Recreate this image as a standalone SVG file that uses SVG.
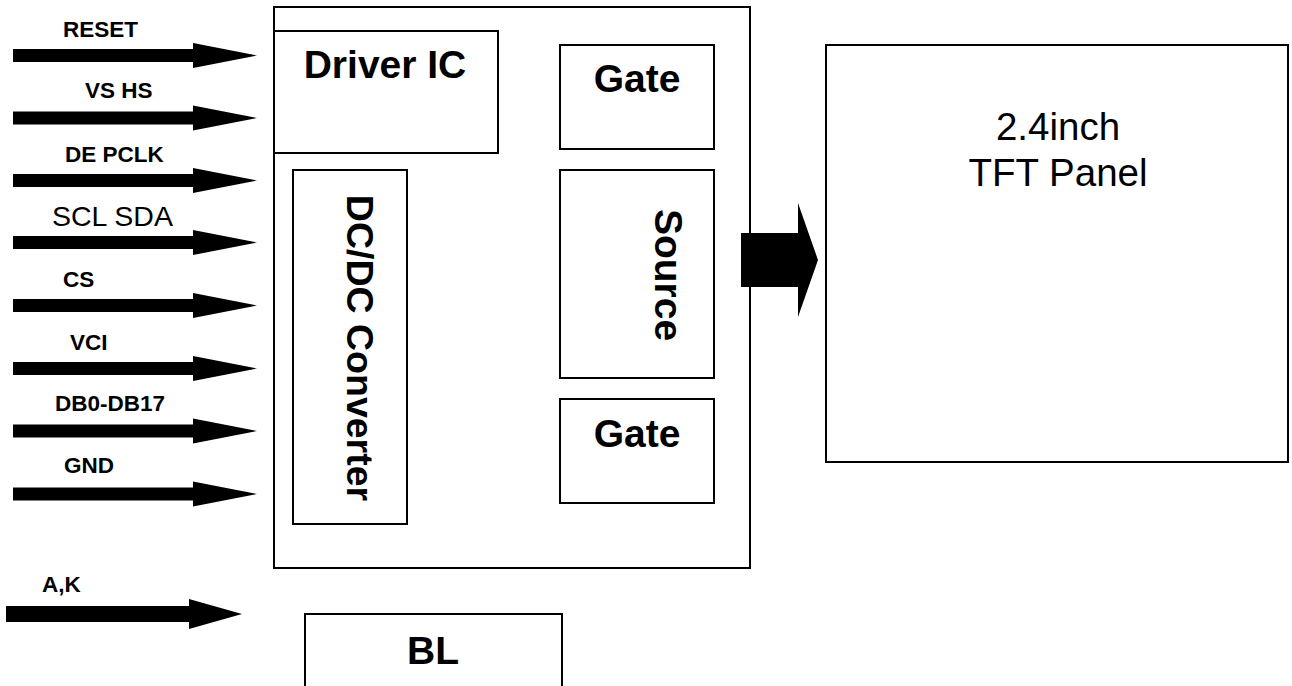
<svg xmlns="http://www.w3.org/2000/svg" xmlns:xlink="http://www.w3.org/1999/xlink" width="1292" height="686" viewBox="0 0 1292 686">
<style>
  .box { fill: #fff; stroke: #000; stroke-width: 2; }
  .lbl { font-family: "Liberation Sans", Arial, sans-serif; font-weight: bold; font-size: 22.5px; fill: #000; }
  .lblr { font-family: "Liberation Sans", Arial, sans-serif; font-size: 28.5px; fill: #000; }
  .big { font-family: "Liberation Sans", Arial, sans-serif; font-weight: bold; font-size: 39px; fill: #000; text-anchor: middle; }
  .panel { font-family: "Liberation Sans", Arial, sans-serif; font-size: 38.5px; fill: #000; text-anchor: middle; }
  .arr { fill: #000; }
</style>
<defs>
  <path id="sig" d="M13,-6.5 L193,-6.5 L193,-12.5 L257,0 L193,12.5 L193,6.5 L13,6.5 Z"/>
</defs>
<rect width="1292" height="686" fill="#fff"/>

<g id="main-box">
  <rect class="box" x="274" y="7" width="476" height="561"/>
</g>
<g id="driver-ic">
  <rect class="box" x="274" y="31" width="224" height="122"/>
  <text class="big" x="385" y="78">Driver IC</text>
</g>
<g id="dcdc">
  <rect class="box" x="293" y="170" width="114" height="354"/>
  <text class="big" style="font-size:37.5px" transform="translate(347,348) rotate(90)">DC/DC Converter</text>
</g>
<g id="gate-top">
  <rect class="box" x="560" y="45" width="154" height="104"/>
  <text class="big" x="637" y="92">Gate</text>
</g>
<g id="source">
  <rect class="box" x="560" y="170" width="154" height="208"/>
  <text class="big" transform="translate(655,275) rotate(90)">Source</text>
</g>
<g id="gate-bottom">
  <rect class="box" x="560" y="399" width="154" height="104"/>
  <text class="big" x="637" y="447">Gate</text>
</g>
<g id="tft-panel">
  <rect class="box" x="826" y="45" width="462" height="417"/>
  <text class="panel" x="1058" y="140">2.4inch</text>
  <text class="panel" x="1058" y="186">TFT Panel</text>
</g>
<g id="bl">
  <rect class="box" x="305" y="614" width="257" height="100"/>
  <text class="big" x="433" y="664">BL</text>
</g>

<g id="connectors">
  <use href="#sig" xlink:href="#sig" class="arr" transform="translate(0,55.5)"/>
  <use href="#sig" xlink:href="#sig" class="arr" transform="translate(0,118)"/>
  <use href="#sig" xlink:href="#sig" class="arr" transform="translate(0,180.5)"/>
  <use href="#sig" xlink:href="#sig" class="arr" transform="translate(0,242.5)"/>
  <use href="#sig" xlink:href="#sig" class="arr" transform="translate(0,305.5)"/>
  <use href="#sig" xlink:href="#sig" class="arr" transform="translate(0,368.5)"/>
  <use href="#sig" xlink:href="#sig" class="arr" transform="translate(0,431)"/>
  <use href="#sig" xlink:href="#sig" class="arr" transform="translate(0,494)"/>
  <path class="arr" d="M6,606 L189,606 L189,599 L242,614 L189,629 L189,622 L6,622 Z"/>
  <path class="arr" d="M741,233 L798,233 L798,203 L818,260 L798,317 L798,287 L741,287 Z"/>
</g>

<g id="labels">
  <text class="lbl" x="63" y="37">RESET</text>
  <text class="lbl" x="85" y="98">VS HS</text>
  <text class="lbl" x="65" y="162">DE PCLK</text>
  <text class="lblr" x="52" y="226">SCL SDA</text>
  <text class="lbl" x="63" y="287">CS</text>
  <text class="lbl" x="70" y="350">VCI</text>
  <text class="lbl" x="55" y="411">DB0-DB17</text>
  <text class="lbl" x="64" y="473">GND</text>
  <text class="lbl" x="42" y="592">A,K</text>
</g>
</svg>
